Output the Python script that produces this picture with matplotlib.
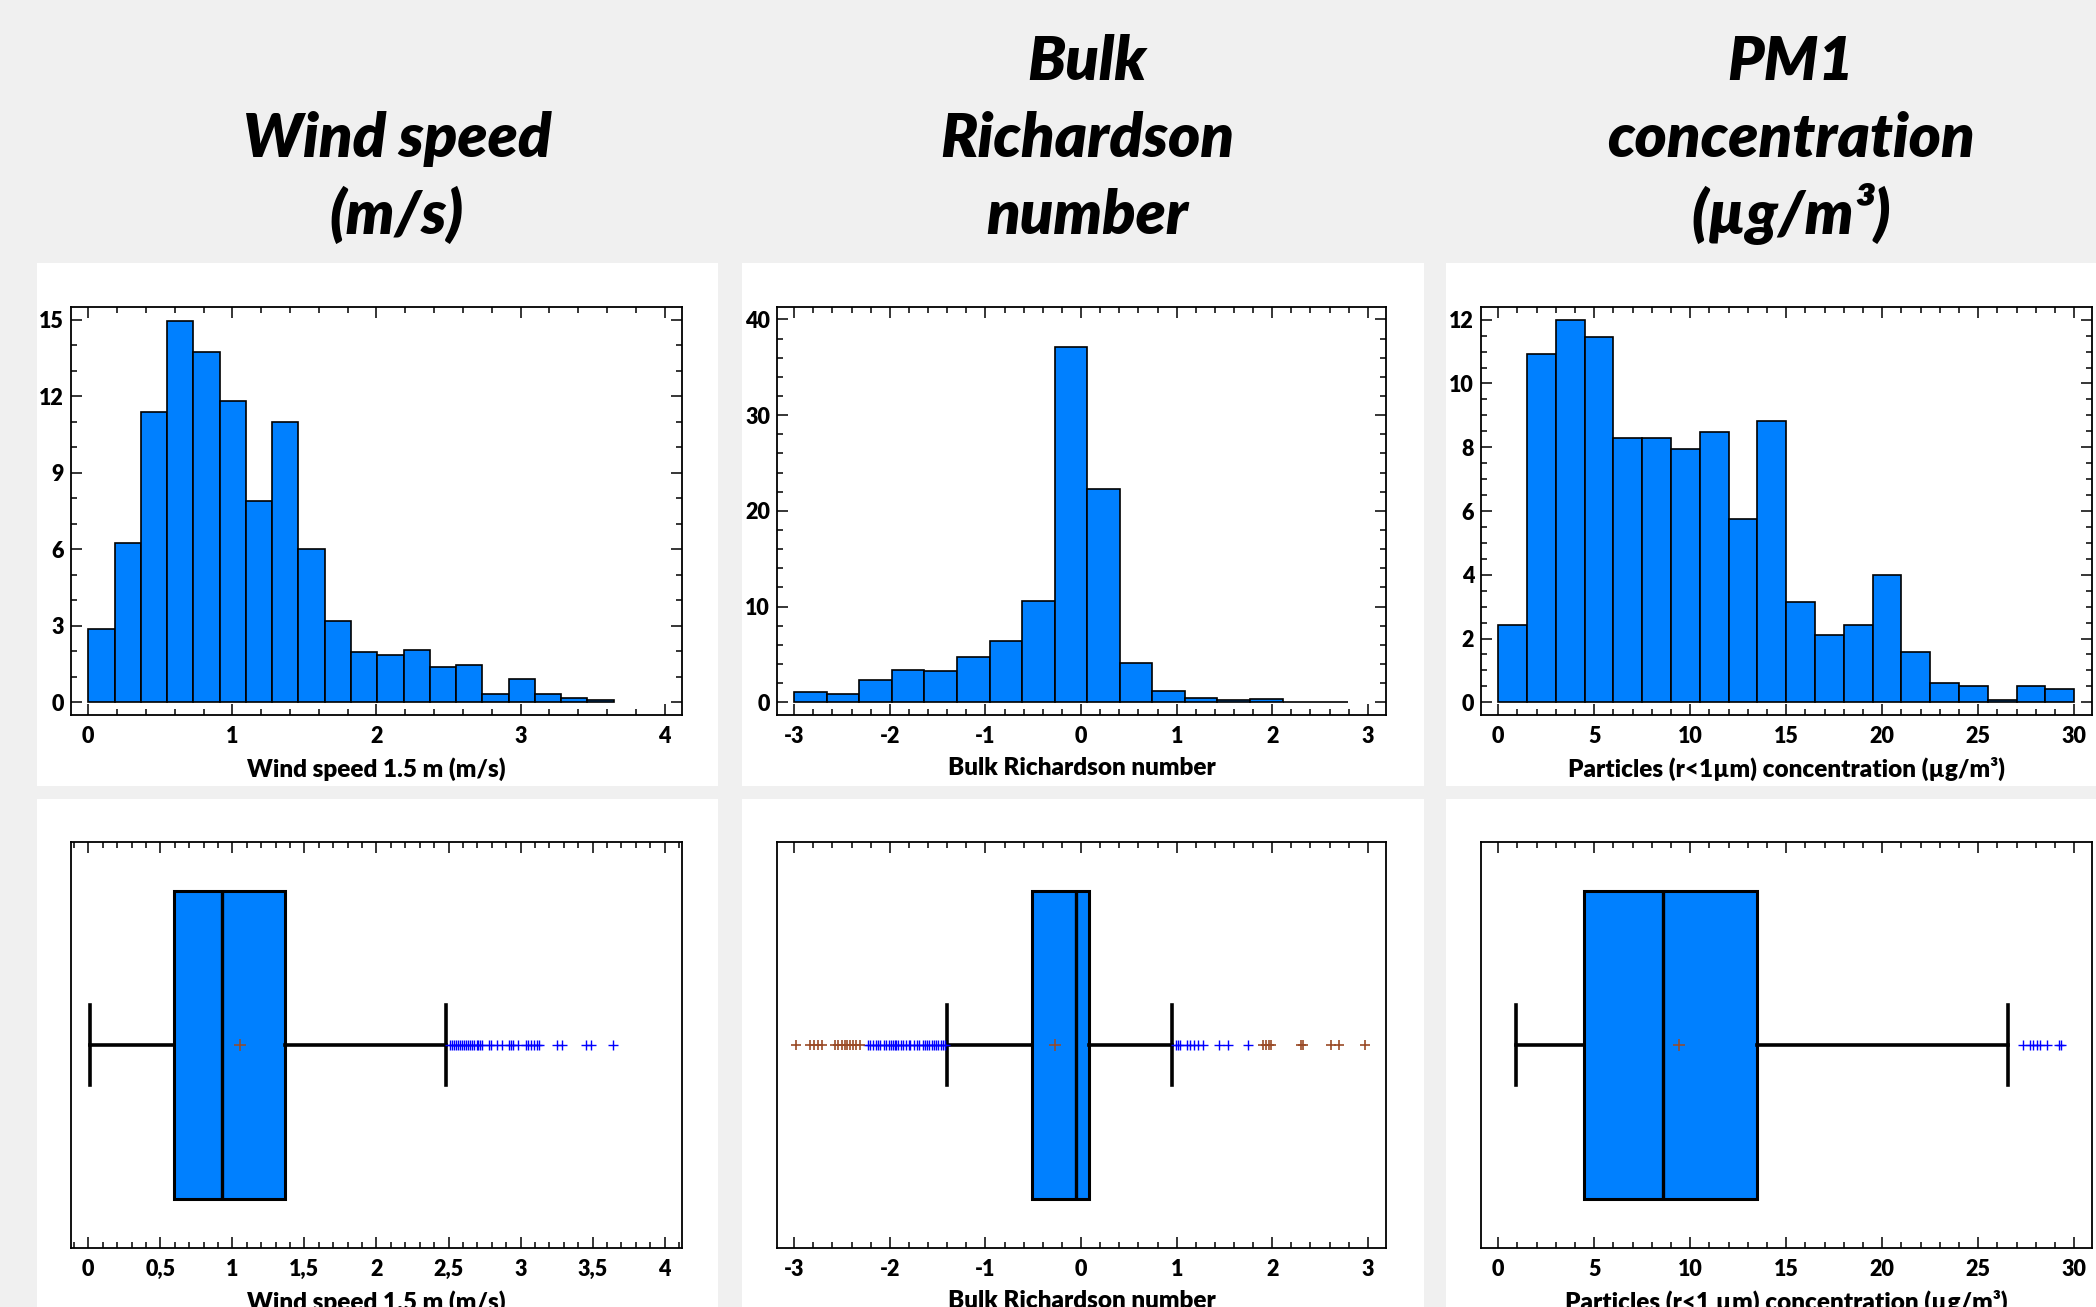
import numpy as np
import matplotlib
matplotlib.use("Agg")
import matplotlib.pyplot as plt
from matplotlib.patches import Rectangle
from matplotlib.ticker import MultipleLocator, FuncFormatter

# histograms : relative frequency (%) per bin
wind_start = 0.0
wind_width = 0.1823
wind_freq = [2.88, 6.25, 11.37, 14.95, 13.73, 11.80, 7.88, 11.00, 6.02, 3.17,
             1.97, 1.86, 2.06, 1.39, 1.48, 0.34, 0.90, 0.34, 0.18, 0.08]

ri_start = -3.0
ri_width = 0.3405
ri_freq = [1.04, 0.86, 2.30, 3.41, 3.31, 4.74, 6.43, 10.53, 37.12, 22.24,
           4.13, 1.19, 0.47, 0.22, 0.32, 0.07, 0.07]

pm_start = 0.0
pm_width = 1.5
pm_freq = [2.43, 10.94, 11.99, 11.45, 8.28, 8.28, 7.94, 8.47, 5.75, 8.82,
           3.15, 2.11, 2.42, 4.00, 1.57, 0.61, 0.50, 0.06, 0.50, 0.41]

# box plots : summary statistics
wind_box = dict(whislo=0.01, q1=0.596, med=0.925, q3=1.363, whishi=2.484, mean=1.056)
ri_box = dict(whislo=-1.398, q1=-0.513, med=-0.056, q3=0.088, whishi=0.951, mean=-0.275)
pm_box = dict(whislo=0.90, q1=4.49, med=8.56, q3=13.47, whishi=26.58, mean=9.40)

# outliers (blue) and extreme values (brown)
wind_out = [2.513, 2.527, 2.541, 2.554, 2.568, 2.582, 2.596, 2.610, 2.624, 2.638,
            2.652, 2.666, 2.680, 2.694, 2.707, 2.721, 2.735, 2.779, 2.796, 2.833,
            2.874, 2.918, 2.935, 2.949, 2.981, 3.034, 3.051, 3.069, 3.092, 3.111,
            3.130, 3.255, 3.290, 3.452, 3.487, 3.644]
wind_ext = []
ri_out = [-2.232, -2.204, -2.176, -2.149, -2.121, -2.100, -2.065, -2.037, -2.009,
          -1.985, -1.968, -1.950, -1.933, -1.919, -1.884, -1.857, -1.829, -1.804,
          -1.787, -1.752, -1.717, -1.690, -1.655, -1.627, -1.606, -1.585, -1.561,
          -1.536, -1.516, -1.491, -1.467, -1.439, -1.422,
          0.989, 1.017, 1.038, 1.107, 1.135, 1.184, 1.225, 1.274, 1.441, 1.538, 1.747]
ri_ext = [-2.980, -2.830, -2.789, -2.747, -2.705, -2.577, -2.545, -2.500, -2.472,
          -2.448, -2.413, -2.385, -2.350, -2.309,
          1.900, 1.935, 1.970, 1.991, 2.300, 2.318, 2.610, 2.700, 2.971]
pm_out = [27.31, 27.71, 27.88, 28.06, 28.20, 28.61, 29.19, 29.33]
pm_ext = []

titles = [["Wind speed", "(m/s)"],
          ["Bulk", "Richardson", "number"],
          ["PM1", "concentration", "(µg/m³)"]]
hist_labels = ["Wind speed 1.5 m (m/s)", "Bulk Richardson number",
               "Particles (r<1µm) concentration (µg/m³)"]
box_labels = ["Wind speed 1.5 m (m/s)", "Bulk Richardson number",
              "Particles (r<1 µm) concentration (µg/m³)"]

BLUE = "#0080ff"
BROWN = "#9a4a26"
W, H = 2096, 1307

plt.rcParams["font.family"] = ["Lato", "DejaVu Sans"]
plt.rcParams["font.weight"] = "heavy"

fig = plt.figure(figsize=(W / 100, H / 100), dpi=100, facecolor="#f0f0f0")


def px_axes(x0, y0, x1, y1):
    return fig.add_axes([x0 / W, 1 - y1 / H, (x1 - x0) / W, (y1 - y0) / H])


# white panels
for x0, x1 in [(37, 718), (742, 1424), (1446, 2096)]:
    for y0, y1 in [(263, 786), (799, 1307)]:
        fig.add_artist(Rectangle((x0 / W, 1 - y1 / H), (x1 - x0) / W, (y1 - y0) / H,
                                 transform=fig.transFigure, facecolor="white",
                                 edgecolor="none", zorder=0))

# titles
title_x = [397, 1087, 1791]
baselines = [80, 157, 234]
for cx, lines in zip(title_x, titles):
    for i, line in enumerate(lines):
        by = baselines[3 - len(lines) + i]
        fig.text(cx / W, 1 - by / H, line, ha="center", va="baseline",
                 fontsize=44, fontstyle="italic", fontweight="heavy")

cols_x = [(71, 682), (777, 1386), (1481, 2092)]
xlims = [(-0.12, 4.12), (-3.18, 3.19), (-0.9, 30.93)]
ylims = [(-0.5, 15.5), (-1.33, 41.3), (-0.4, 12.4)]
hist_major = [(1, 0.2, 3, 1), (1, 0.2, 10, 2), (5, 1, 2, 0.5)]
box_major = [(0.5, 0.1), (1, 0.2), (5, 1)]
hists = [(wind_start, wind_width, wind_freq), (ri_start, ri_width, ri_freq),
         (pm_start, pm_width, pm_freq)]
boxes = [(wind_box, wind_out, wind_ext), (ri_box, ri_out, ri_ext),
         (pm_box, pm_out, pm_ext)]

comma = FuncFormatter(lambda v, p: f"{v:g}".replace(".", ","))


def style(ax, left_right=True):
    for s in ax.spines.values():
        s.set_linewidth(1.3)
    ax.tick_params(which="both", direction="in", top=True, right=left_right,
                   labelsize=15.5, width=1.1, pad=8)
    ax.tick_params(which="major", length=8)
    ax.tick_params(which="minor", length=4)
    for t in ax.get_xticklabels() + ax.get_yticklabels():
        t.set_fontweight("heavy")


for k in range(3):
    x0, x1 = cols_x[k]
    # histogram
    ax = px_axes(x0, 307, x1, 715)
    start, width, freq = hists[k]
    edges = start + width * np.arange(len(freq))
    ax.bar(edges, freq, width=width, align="edge", color=BLUE,
           edgecolor="black", linewidth=1.2)
    ax.set_xlim(*xlims[k])
    ax.set_ylim(*ylims[k])
    xm, xn, ym, yn = hist_major[k]
    ax.xaxis.set_major_locator(MultipleLocator(xm))
    ax.xaxis.set_minor_locator(MultipleLocator(xn))
    ax.yaxis.set_major_locator(MultipleLocator(ym))
    ax.yaxis.set_minor_locator(MultipleLocator(yn))
    ax.xaxis.set_major_formatter(comma)
    style(ax)
    ax.tick_params(axis="y", pad=5)
    ax.set_xlabel(hist_labels[k], fontsize=17.5, fontweight="heavy", labelpad=7)

    # box plot
    ax = px_axes(x0, 842, x1, 1248)
    stats, out, ext = boxes[k]
    ax.bxp([dict(stats, fliers=[])], positions=[1], widths=0.757,
           orientation="horizontal", patch_artist=True, showmeans=True,
           showfliers=False, capwidths=0.196,
           boxprops=dict(facecolor=BLUE, edgecolor="black", linewidth=2.2),
           medianprops=dict(color="black", linewidth=2.4),
           whiskerprops=dict(color="black", linewidth=2.6),
           capprops=dict(color="black", linewidth=2.6),
           meanprops=dict(marker="+", markeredgecolor=BROWN, markersize=8,
                          markeredgewidth=1.1))
    ax.plot(out, np.ones(len(out)), ls="none", marker="+", color="blue",
            ms=7, mew=1)
    ax.plot(ext, np.ones(len(ext)), ls="none", marker="+", color=BROWN,
            ms=7, mew=1.2)
    ax.set_xlim(*xlims[k])
    ax.set_ylim(0.5, 1.5)
    ax.set_yticks([])
    bm, bn = box_major[k]
    ax.xaxis.set_major_locator(MultipleLocator(bm))
    ax.xaxis.set_minor_locator(MultipleLocator(bn))
    ax.xaxis.set_major_formatter(comma)
    style(ax, left_right=False)
    ax.set_xlabel(box_labels[k], fontsize=17.5, fontweight="heavy", labelpad=7)

fig.savefig("out.png", dpi=100, facecolor=fig.get_facecolor())
